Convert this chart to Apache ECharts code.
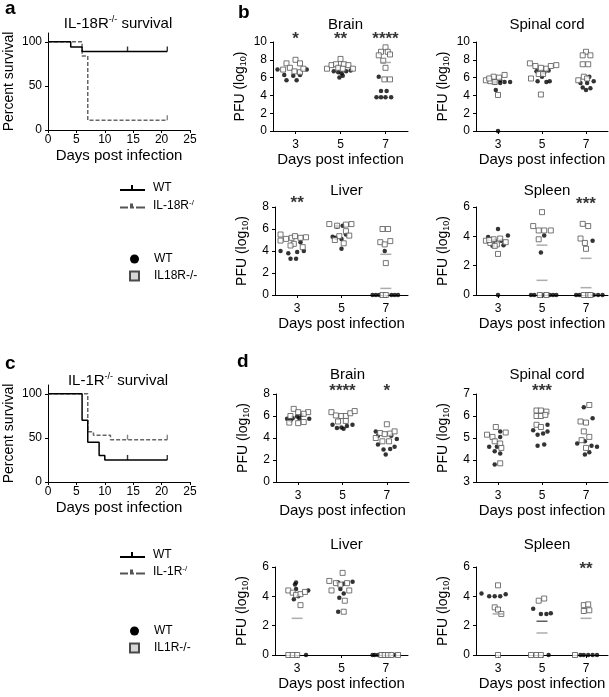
<!DOCTYPE html>
<html><head><meta charset="utf-8">
<script src="https://cdn.jsdelivr.net/npm/echarts@6/dist/echarts.min.js"></script>
<style>html,body{margin:0;padding:0;background:#fff}#c{width:609px;height:697px}</style>
</head><body><div id="c"></div>
<script>
// ================= DATA =================
// Kaplan-Meier survival steps [day, percent]
const aWT = [[0,100],[4,94],[6,89],[21,89]];
const aKO = [[0,100],[6,84],[7,11],[21,11]];
const aWTCensor = [[14,89],[21,89]];
const aKOCensor = [[21,11]];
const cWT = [[0,100],[6,70],[7,45],[9,30],[10,25],[21,25]];
const cKO = [[0,100],[7,57],[8,53],[11,48],[21,48]];
const cWTCensor = [[14,25],[21,25]];
const cKOCensor = [[14,48],[21,48]];
const survTicksY = [0,50,100];
const dayTicks = [3,5,7];

// Panel b (IL-18R) — [day (jittered), log10 PFU]
const bBrainWT = [[2.2,6.9],[2.5,6.3],[2.6,5.7],[2.9,6.2],[3.05,5.7],[3.2,6.3],[3.5,6.9],
  [4.7,6.7],[4.9,6.6],[5.05,6.5],[5.25,6.7],[5.45,6.8],[4.95,6.0],[5.1,6.2],
  [6.7,6.1],[6.8,4.5],[7.05,4.5],[6.6,3.8],[6.8,3.8],[7.0,3.8],[7.25,3.8]];
const bBrainKO = [[2.6,7.6],[2.75,7.1],[3.0,8.0],[3.2,7.6],[2.95,6.7],[3.2,6.6],[3.35,7.0],[2.45,6.9],
  [4.4,7.0],[4.6,7.4],[4.8,7.5],[5.0,8.1],[5.15,7.5],[5.35,7.4],[5.55,7.0],[4.9,7.1],[5.1,7.0],
  [7.0,9.4],[6.8,8.9],[7.1,8.9],[6.7,8.5],[7.2,8.6],[6.9,7.9],[7.0,7.1],[6.95,5.8],[7.2,5.8]];
const bBrainMeanKO = [[7,7.7]];
const bBrainSig = [[3,'*'],[5,'**'],[7,'****']];

const bSpinalWT = [[2.85,5.45],[3.1,5.4],[3.3,5.5],[3.55,5.5],[2.9,4.6],[3.1,5.7],[3.0,0],
  [4.75,6.7],[5.1,6.6],[5.3,6.8],[4.8,5.6],[5.2,5.5],[5.35,5.6],[5.0,6.1],
  [7.15,6.1],[6.75,5.4],[7.05,5.4],[7.35,5.6],[6.85,4.9],[7.2,4.8],[7.0,4.6]];
const bSpinalKO = [[2.45,5.7],[2.65,5.6],[2.8,6.1],[3.05,6.0],[3.3,6.3],[2.85,5.5],[3.0,4.05],[2.6,5.9],
  [4.45,7.6],[4.7,7.3],[4.95,7.1],[5.2,7.0],[5.4,7.3],[5.65,7.4],[4.5,5.9],[4.85,6.4],[5.05,6.4],[4.95,4.1],
  [7.0,8.9],[6.85,8.5],[7.2,8.5],[6.85,7.5],[7.1,7.5],[6.9,6.1],[6.65,5.7],[7.05,5.9]];

const bLiverWT = [[3.15,4.8],[2.25,4.0],[2.6,3.8],[3.0,3.9],[2.7,3.3],[2.95,3.3],[3.3,4.0],
  [4.6,5.3],[4.8,6.2],[5.05,6.3],[5.0,5.1],[5.2,5.5],[5.0,4.2],[4.75,5.2],
  [6.95,4.0],[6.4,0],[6.55,0],[6.7,0],[7.25,0],[7.4,0],[7.55,0]];
const bLiverKO = [[2.25,5.5],[2.25,4.95],[2.5,5.1],[2.75,5.2],[2.9,5.35],[3.15,5.2],[3.4,5.25],[2.85,4.65],[2.7,4.5],[3.25,4.35],
  [4.45,6.45],[4.8,6.3],[5.2,6.4],[5.45,6.45],[5.2,5.8],[5.35,5.4],[4.9,5.35],[4.7,5.0],[5.1,4.7],
  [6.85,6.0],[7.1,6.0],[6.75,4.8],[6.95,4.6],[7.2,4.9],[7.0,2.9],[6.85,0],[7.0,0]];
const bLiverMeanKO = [[7,3.7]];
const bLiverMeanWT = [[7,0.6]];
const bLiverSig = [[3,'**']];

const bSpleenWT = [[2.55,3.95],[3.0,4.5],[3.45,4.05],[2.75,3.35],[3.15,3.7],[3.25,3.4],[2.85,3.7],[3.0,0],
  [5.1,4.05],[4.95,2.9],[4.5,0],[4.65,0],[5.05,0],[5.5,0],[5.65,0],[5.35,0],
  [7.3,3.7],[6.55,0],[6.7,0],[7.35,0],[7.55,0],[7.75,0]];
const bSpleenKO = [[2.45,3.7],[2.65,3.55],[2.8,3.8],[2.95,3.45],[3.1,3.85],[3.35,3.6],[2.85,3.35],[3.0,2.8],[2.6,3.75],
  [4.6,4.7],[5.0,5.65],[4.85,4.4],[5.1,4.4],[5.4,4.4],[4.85,3.8],[4.9,0],[5.2,0],
  [6.85,4.85],[7.1,4.7],[6.75,3.85],[6.95,3.55],[7.0,3.15],[6.9,0],[7.1,0],[7.2,0]];
const bSpleenMeanKO = [[5,3.4],[7,2.5]];
const bSpleenMeanWT = [[5,1.0],[7,0.5]];
const bSpleenSig = [[7,'***']];

// Panel d (IL-1R)
const dBrainWT = [[2.5,5.75],[2.75,5.8],[2.95,5.95],[3.15,6.1],[3.05,5.8],[3.5,5.75],[2.65,5.6],
  [4.55,5.2],[4.75,4.9],[4.95,4.95],[5.2,5.1],[5.45,5.2],[5.05,4.85],
  [6.5,4.6],[6.6,4.2],[7.2,4.2],[7.45,3.9],[6.6,3.4],[6.85,2.95],[7.15,3.0],[7.35,3.2],[6.95,2.5]];
const dBrainKO = [[2.8,6.65],[3.0,6.35],[3.45,6.35],[3.25,6.2],[2.65,6.0],[2.6,5.4],[3.0,5.35],[3.25,5.45],
  [4.5,6.35],[4.7,6.05],[4.95,6.0],[5.15,6.0],[5.35,6.25],[5.55,6.45],[4.8,5.5],[5.15,5.55],
  [7.0,5.25],[6.7,4.45],[6.9,4.35],[7.15,4.4],[7.35,4.6],[6.5,4.0],[6.8,3.7],[7.1,3.7]];
const dBrainSig = [[5,'****'],[7,'*']];

const dSpinalWT = [[3.1,5.3],[3.1,5.05],[2.6,4.6],[2.85,4.4],[3.1,4.3],[2.85,3.8],[2.95,4.6],
  [5.25,5.6],[4.6,5.35],[4.8,5.15],[5.05,5.2],[5.25,5.3],[4.8,4.65],[5.1,4.7],
  [6.9,6.4],[7.3,5.9],[6.6,4.75],[6.95,4.85],[7.25,4.65],[7.5,4.6],[6.95,4.25],[7.15,4.35]];
const dSpinalKO = [[2.9,5.5],[2.5,5.15],[2.75,5.05],[2.85,4.85],[3.35,5.25],[3.1,4.75],[3.15,4.55],[3.1,3.85],
  [4.75,6.25],[4.95,6.25],[5.2,6.2],[4.75,6.0],[4.95,6.0],[5.15,6.05],[4.75,5.6],[4.95,5.5],
  [7.15,6.5],[6.75,5.75],[7.0,5.7],[6.9,5.3],[7.15,5.05],[6.8,4.9],[7.0,4.55]];
const dSpinalSig = [[5,'***']];

const dLiverWT = [[2.95,4.95],[2.9,4.8],[2.95,4.5],[3.5,4.4],[3.05,4.0],[2.85,3.8],[3.4,0],
  [4.85,4.95],[5.1,4.85],[5.5,5.0],[4.95,4.5],[5.1,4.2],[4.9,3.9],[4.85,2.95],
  [6.4,0],[6.5,0],[6.65,0],[7.4,0]];
const dLiverKO = [[2.6,4.4],[2.8,4.25],[2.95,4.1],[3.15,4.15],[3.35,4.3],[3.15,3.4],[2.6,0],[2.8,0],[3.0,0],
  [5.05,5.6],[4.45,5.05],[4.75,4.9],[4.95,4.8],[5.25,4.9],[4.55,4.4],[5.35,4.4],[5.15,3.7],[5.1,2.95],
  [6.8,0],[6.95,0],[7.1,0],[7.25,0],[7.55,0]];
const dLiverMeanKO = [[3,2.5]];

const dSpleenWT = [[2.25,4.2],[2.6,4.0],[2.85,4.0],[3.1,4.0],[3.35,4.15],
  [4.6,3.15],[4.95,2.8],[5.2,2.8],[5.4,2.85],[5.3,0],
  [6.75,0],[6.9,0],[7.1,0],[7.3,0],[7.5,0]];
const dSpleenKO = [[3.0,4.75],[2.85,3.25],[3.0,3.1],[3.15,2.8],[3.0,0],
  [4.85,3.7],[5.1,3.85],[4.5,0],[4.75,0],[4.95,0],
  [6.9,3.4],[7.1,3.45],[6.9,3.0],[7.15,3.05],[6.5,0]];
const dSpleenMeanKO = [[3,2.8],[5,1.5],[7,2.5]];
const dSpleenMeanWT = [[5,2.3]];
const dSpleenSig = [[7,'**']];

// ================= CHART =================
const FONT = '"Liberation Sans", Arial, Helvetica, sans-serif';
const BLACK = '#000';
const grids = [], xAxes = [], yAxes = [], series = [], titles = [];

function txt(size, extra) { return Object.assign({fontFamily: FONT, fontSize: size, color: BLACK}, extra || {}); }

function addSurvival(p) {
  const gi = grids.length;
  grids.push({left: p.left, top: p.top, width: p.width, height: p.height});
  xAxes.push({gridIndex: gi, type: 'value', min: 0, max: 25, interval: 5,
    name: 'Days post infection', nameLocation: 'middle', nameGap: 18, nameTextStyle: txt(15),
    axisLine: {onZero: false, lineStyle: {color: BLACK, width: 1}},
    axisTick: {show: true, length: 3, lineStyle: {color: BLACK}},
    axisLabel: txt(12, {margin: 4}), splitLine: {show: false}});
  yAxes.push({gridIndex: gi, type: 'value', min: 0, max: 110,
    name: 'Percent survival', nameLocation: 'middle', nameGap: 32, nameTextStyle: txt(14),
    axisLine: {show: true, lineStyle: {color: BLACK, width: 1}},
    axisTick: {show: true, length: 3, customValues: survTicksY, lineStyle: {color: BLACK}},
    axisLabel: txt(12, {margin: 6, customValues: survTicksY}), splitLine: {show: false}});
  series.push({type: 'line', name: 'WT', xAxisIndex: gi, yAxisIndex: gi, data: p.wt, step: 'end',
    symbol: 'none', lineStyle: {color: BLACK, width: 1.5}, z: 4});
  series.push({type: 'line', name: p.koName, xAxisIndex: gi, yAxisIndex: gi, data: p.ko, step: 'end',
    symbol: 'none', lineStyle: {color: '#666', width: 1.5, type: [4, 2]}, z: 3});
  series.push({type: 'scatter', name: 'WT', xAxisIndex: gi, yAxisIndex: gi, data: p.wtC,
    symbol: 'rect', symbolSize: [1.4, 5], symbolOffset: [0, -2.5], itemStyle: {color: BLACK}, z: 5});
  series.push({type: 'scatter', name: p.koName, xAxisIndex: gi, yAxisIndex: gi, data: p.koC,
    symbol: 'rect', symbolSize: [1.4, 5], symbolOffset: [0, -2.5], itemStyle: {color: '#666'}, z: 5});
  titles.push({text: p.title, left: p.left + p.width / 2 - 6, top: p.titleTop, textAlign: 'center',
    textStyle: txt(15, {fontWeight: 'normal', lineHeight: 18,
      rich: {p: {fontFamily: FONT, fontSize: 9, color: BLACK, verticalAlign: 'top', lineHeight: 12}}})});
}

function addScatter(p) {
  const gi = grids.length;
  grids.push({left: p.left, top: p.top, width: p.width, height: p.height});
  xAxes.push({gridIndex: gi, type: 'value', min: 2, max: 8,
    name: 'Days post infection', nameLocation: 'middle', nameGap: 21, nameTextStyle: txt(15),
    axisLine: {onZero: false, lineStyle: {color: BLACK, width: 1}},
    axisTick: {show: true, length: 3, customValues: dayTicks, lineStyle: {color: BLACK}},
    axisLabel: txt(12, {margin: 8, customValues: dayTicks}), splitLine: {show: false}});
  yAxes.push({gridIndex: gi, type: 'value', min: p.ymin, max: p.ymax, interval: p.yint,
    name: 'PFU (log{s|10})', nameLocation: 'middle', nameGap: 25,
    nameTextStyle: txt(14, {lineHeight: 16, rich: {s: {fontFamily: FONT, fontSize: 9, color: BLACK, verticalAlign: 'bottom', lineHeight: 9}}}),
    axisLine: {show: true, lineStyle: {color: BLACK, width: 1}},
    axisTick: {show: true, length: 3, lineStyle: {color: BLACK}},
    axisLabel: txt(12, {margin: 6}), splitLine: {show: false}});
  series.push({type: 'scatter', name: 'WT', xAxisIndex: gi, yAxisIndex: gi, data: p.wt,
    symbol: 'circle', symbolSize: 4.5, itemStyle: {color: BLACK}, z: 3, clip: false});
  series.push({type: 'scatter', name: p.koName, xAxisIndex: gi, yAxisIndex: gi, data: p.ko,
    symbol: 'rect', symbolSize: 5, itemStyle: {color: '#fff', borderColor: '#555', borderWidth: 1}, z: 4, clip: false});
  if (p.meanKO) series.push({type: 'scatter', xAxisIndex: gi, yAxisIndex: gi, data: p.meanKO,
    symbol: 'rect', symbolSize: [11, 1.5], itemStyle: {color: '#999'}, z: 5, clip: false});
  if (p.meanWT) series.push({type: 'scatter', xAxisIndex: gi, yAxisIndex: gi, data: p.meanWT,
    symbol: 'rect', symbolSize: [11, 1.5], itemStyle: {color: p.meanWTColor || '#999'}, z: 5, clip: false});
  if (p.sig) {
    const yStar = p.ymax + (p.ymax - p.ymin) * p.sigGap / p.height;
    series.push({type: 'scatter', xAxisIndex: gi, yAxisIndex: gi, clip: false, symbolSize: 0,
      data: p.sig.map(s => ({name: s[1], value: [s[0], yStar]})),
      label: {show: true, position: 'inside', formatter: '{b}', offset: [0, 4],
        fontFamily: FONT, fontSize: 17, fontWeight: 'bold', color: BLACK}, z: 6});
  }
  titles.push({text: p.title, left: p.left + p.width / 2, top: p.titleTop, textAlign: 'center',
    textStyle: txt(15, {fontWeight: 'normal'})});
}

addSurvival({left: 48, top: 33, width: 142, height: 97, wt: aWT, ko: aKO, wtC: aWTCensor, koC: aKOCensor,
  koName: 'IL-18R-/-', title: 'IL-18R{p|-/-} survival', titleTop: 10});
addSurvival({left: 48, top: 385, width: 142, height: 97, wt: cWT, ko: cKO, wtC: cWTCensor, koC: cKOCensor,
  koName: 'IL-1R-/-', title: 'IL-1R{p|-/-} survival', titleTop: 367});

const KB = 'IL18R-/-', KD = 'IL1R-/-';
addScatter({left: 273, top: 42, width: 135, height: 89, ymin: 0, ymax: 10, yint: 2, title: 'Brain', titleTop: 12,
  wt: bBrainWT, ko: bBrainKO, meanKO: bBrainMeanKO, sig: bBrainSig, sigGap: 7, koName: KB});
addScatter({left: 476, top: 42, width: 132, height: 89, ymin: 0, ymax: 10, yint: 2, title: 'Spinal cord', titleTop: 12,
  wt: bSpinalWT, ko: bSpinalKO, koName: KB});
addScatter({left: 275, top: 207, width: 133, height: 88, ymin: 0, ymax: 8, yint: 2, title: 'Liver', titleTop: 178,
  wt: bLiverWT, ko: bLiverKO, meanKO: bLiverMeanKO, meanWT: bLiverMeanWT, sig: bLiverSig, sigGap: 8, koName: KB});
addScatter({left: 476, top: 207, width: 132, height: 88, ymin: 0, ymax: 6, yint: 2, title: 'Spleen', titleTop: 178,
  wt: bSpleenWT, ko: bSpleenKO, meanKO: bSpleenMeanKO, meanWT: bSpleenMeanWT, sig: bSpleenSig, sigGap: 7, koName: KB});
addScatter({left: 276, top: 394, width: 133, height: 88, ymin: 0, ymax: 8, yint: 2, title: 'Brain', titleTop: 362,
  wt: dBrainWT, ko: dBrainKO, sig: dBrainSig, sigGap: 7, koName: KD});
addScatter({left: 476, top: 394, width: 132, height: 88, ymin: 3, ymax: 7, yint: 1, title: 'Spinal cord', titleTop: 362,
  wt: dSpinalWT, ko: dSpinalKO, sig: dSpinalSig, sigGap: 7, koName: KD});
addScatter({left: 275, top: 567, width: 133, height: 88, ymin: 0, ymax: 6, yint: 2, title: 'Liver', titleTop: 532,
  wt: dLiverWT, ko: dLiverKO, meanKO: dLiverMeanKO, koName: KD});
addScatter({left: 476, top: 567, width: 132, height: 88, ymin: 0, ymax: 6, yint: 2, title: 'Spleen', titleTop: 532,
  wt: dSpleenWT, ko: dSpleenKO, meanKO: dSpleenMeanKO, meanWT: dSpleenMeanWT, meanWTColor: '#333',
  sig: dSpleenSig, sigGap: 2, koName: KD});

// panel letters
[['a', 0, -6], ['b', 233, -2], ['c', 0, 349], ['d', 232, 347]].forEach(l => {
  titles.push({text: l[0], left: l[1], top: l[2], textStyle: txt(19, {fontWeight: 'bold'})});
});

const solidIcon = 'path://M0,5H25V7H0Z M11,1H13V5H11Z';
const dashIcon = 'path://M0,5H8V7H0Z M10,5H14V7H10Z M16,5H25V7H16Z M10,2H13V5H10Z';
const supRich = {p: {fontFamily: FONT, fontSize: 8, color: BLACK, verticalAlign: 'top', lineHeight: 9}};
function lineLegend(top, koName, koLabel, gap) {
  return {left: 115, top: top, orient: 'vertical', itemWidth: 25, itemHeight: 8, itemGap: gap,
    selectedMode: false,
    data: [{name: 'WT', icon: solidIcon, itemStyle: {color: BLACK, borderWidth: 0}},
           {name: koName, icon: dashIcon, itemStyle: {color: '#555', borderWidth: 0}}],
    formatter: n => n === 'WT' ? 'WT' : koLabel,
    textStyle: txt(12, {padding: [0, 0, 0, 3], lineHeight: 14, rich: supRich})};
}
function dotLegend(top, koName) {
  return {left: 124, top: top, orient: 'vertical', itemWidth: 9, itemHeight: 9, itemGap: 5,
    selectedMode: false,
    data: [{name: 'WT', icon: 'circle', itemStyle: {color: BLACK, borderWidth: 0}},
           {name: koName, icon: 'rect', itemStyle: {color: '#ccc', borderColor: '#222', borderWidth: 2}}],
    textStyle: txt(12, {padding: [0, 0, 0, 10]})};
}

const chart = echarts.init(document.getElementById('c'), null, {renderer: 'canvas'});
chart.setOption({
  animation: false,
  backgroundColor: '#fff',
  title: titles,
  grid: grids,
  xAxis: xAxes,
  yAxis: yAxes,
  legend: [lineLegend(176, 'IL-18R-/-', 'IL-18R{p|-/}', 4), dotLegend(248, KB),
           lineLegend(543, 'IL-1R-/-', 'IL-1R{p|-/}', 3), dotLegend(620, KD)],
  series: series
});
</script></body></html>
